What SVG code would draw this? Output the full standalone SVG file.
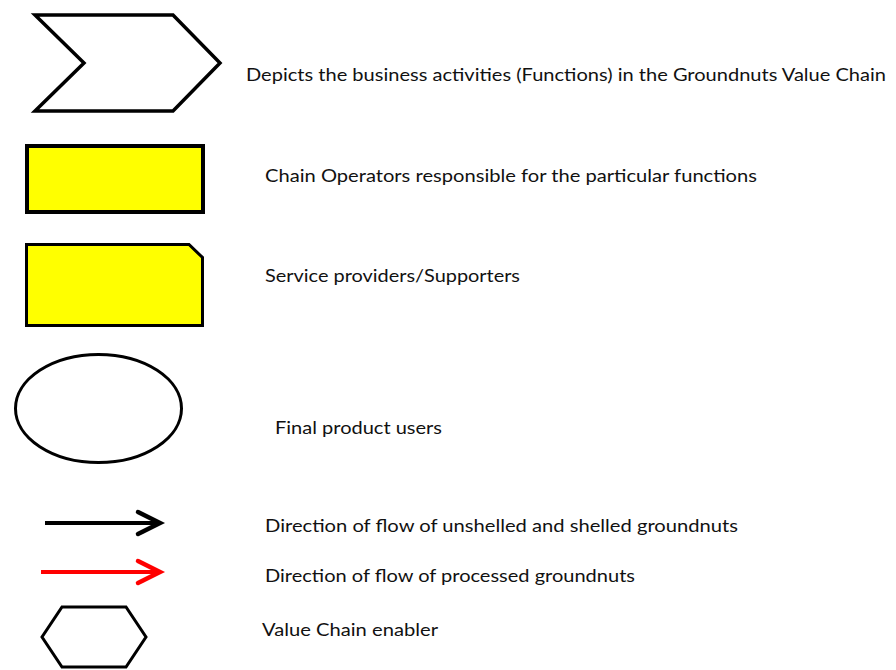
<svg xmlns="http://www.w3.org/2000/svg" width="896" height="670" viewBox="0 0 896 670">
<style>
.t{font-family:Lato,"Open Sans","Liberation Sans",sans-serif;font-size:18px;fill:#111}
.s{stroke:#000;stroke-linejoin:miter}
</style>
<defs>
<marker id="ah" viewBox="0 0 10 10" refX="9" refY="5" markerWidth="10" markerHeight="10" markerUnits="userSpaceOnUse" orient="auto"/>
</defs>
<rect width="896" height="670" fill="#fff"/>
<g id="function">
<polygon class="s" points="35,15 173,15 220,63 173,111 35,111 84,63" fill="#fff" stroke-width="3.5"/>
<text class="t" x="246" y="81" textLength="640" lengthAdjust="spacingAndGlyphs">Depicts the business activities (Functions) in the Groundnuts Value Chain</text>
</g>
<g id="operator">
<rect class="s" x="27" y="146" width="176" height="66" fill="#ffff00" stroke-width="4"/>
<text class="t" x="265" y="182" textLength="492" lengthAdjust="spacingAndGlyphs">Chain Operators responsible for the particular functions</text>
</g>
<g id="service">
<polygon class="s" points="26.5,244.5 189,244.5 202.5,257.5 202.5,325.5 26.5,325.5" fill="#ffff00" stroke-width="3"/>
<text class="t" x="265" y="282" textLength="255" lengthAdjust="spacingAndGlyphs">Service providers/Supporters</text>
</g>
<g id="users">
<ellipse class="s" cx="98.5" cy="408.5" rx="83" ry="54" fill="#fff" stroke-width="3"/>
<text class="t" x="275" y="434" textLength="167" lengthAdjust="spacingAndGlyphs">Final product users</text>
</g>
<g id="connectors">
<line x1="45" y1="523" x2="160" y2="523" stroke="#000" stroke-width="4"/>
<polyline points="138,512 160,523 138,534" fill="none" stroke="#000" stroke-width="4.5" stroke-linecap="round"/>
<line x1="41" y1="572" x2="160" y2="572" stroke="#ff0000" stroke-width="4"/>
<polyline points="138,561 160,572 138,583" fill="none" stroke="#ff0000" stroke-width="4.5" stroke-linecap="round"/>
</g>
<g id="flow-labels">
<text class="t" x="265" y="532" textLength="473" lengthAdjust="spacingAndGlyphs">Direction of flow of unshelled and shelled groundnuts</text>
<text class="t" x="265" y="582" textLength="370" lengthAdjust="spacingAndGlyphs">Direction of flow of processed groundnuts</text>
</g>
<g id="enabler">
<polygon class="s" points="62,607 126,607 146,637 126,667 62,667 42,637" fill="#fff" stroke-width="3"/>
<text class="t" x="262" y="636" textLength="176" lengthAdjust="spacingAndGlyphs">Value Chain enabler</text>
</g>
</svg>
